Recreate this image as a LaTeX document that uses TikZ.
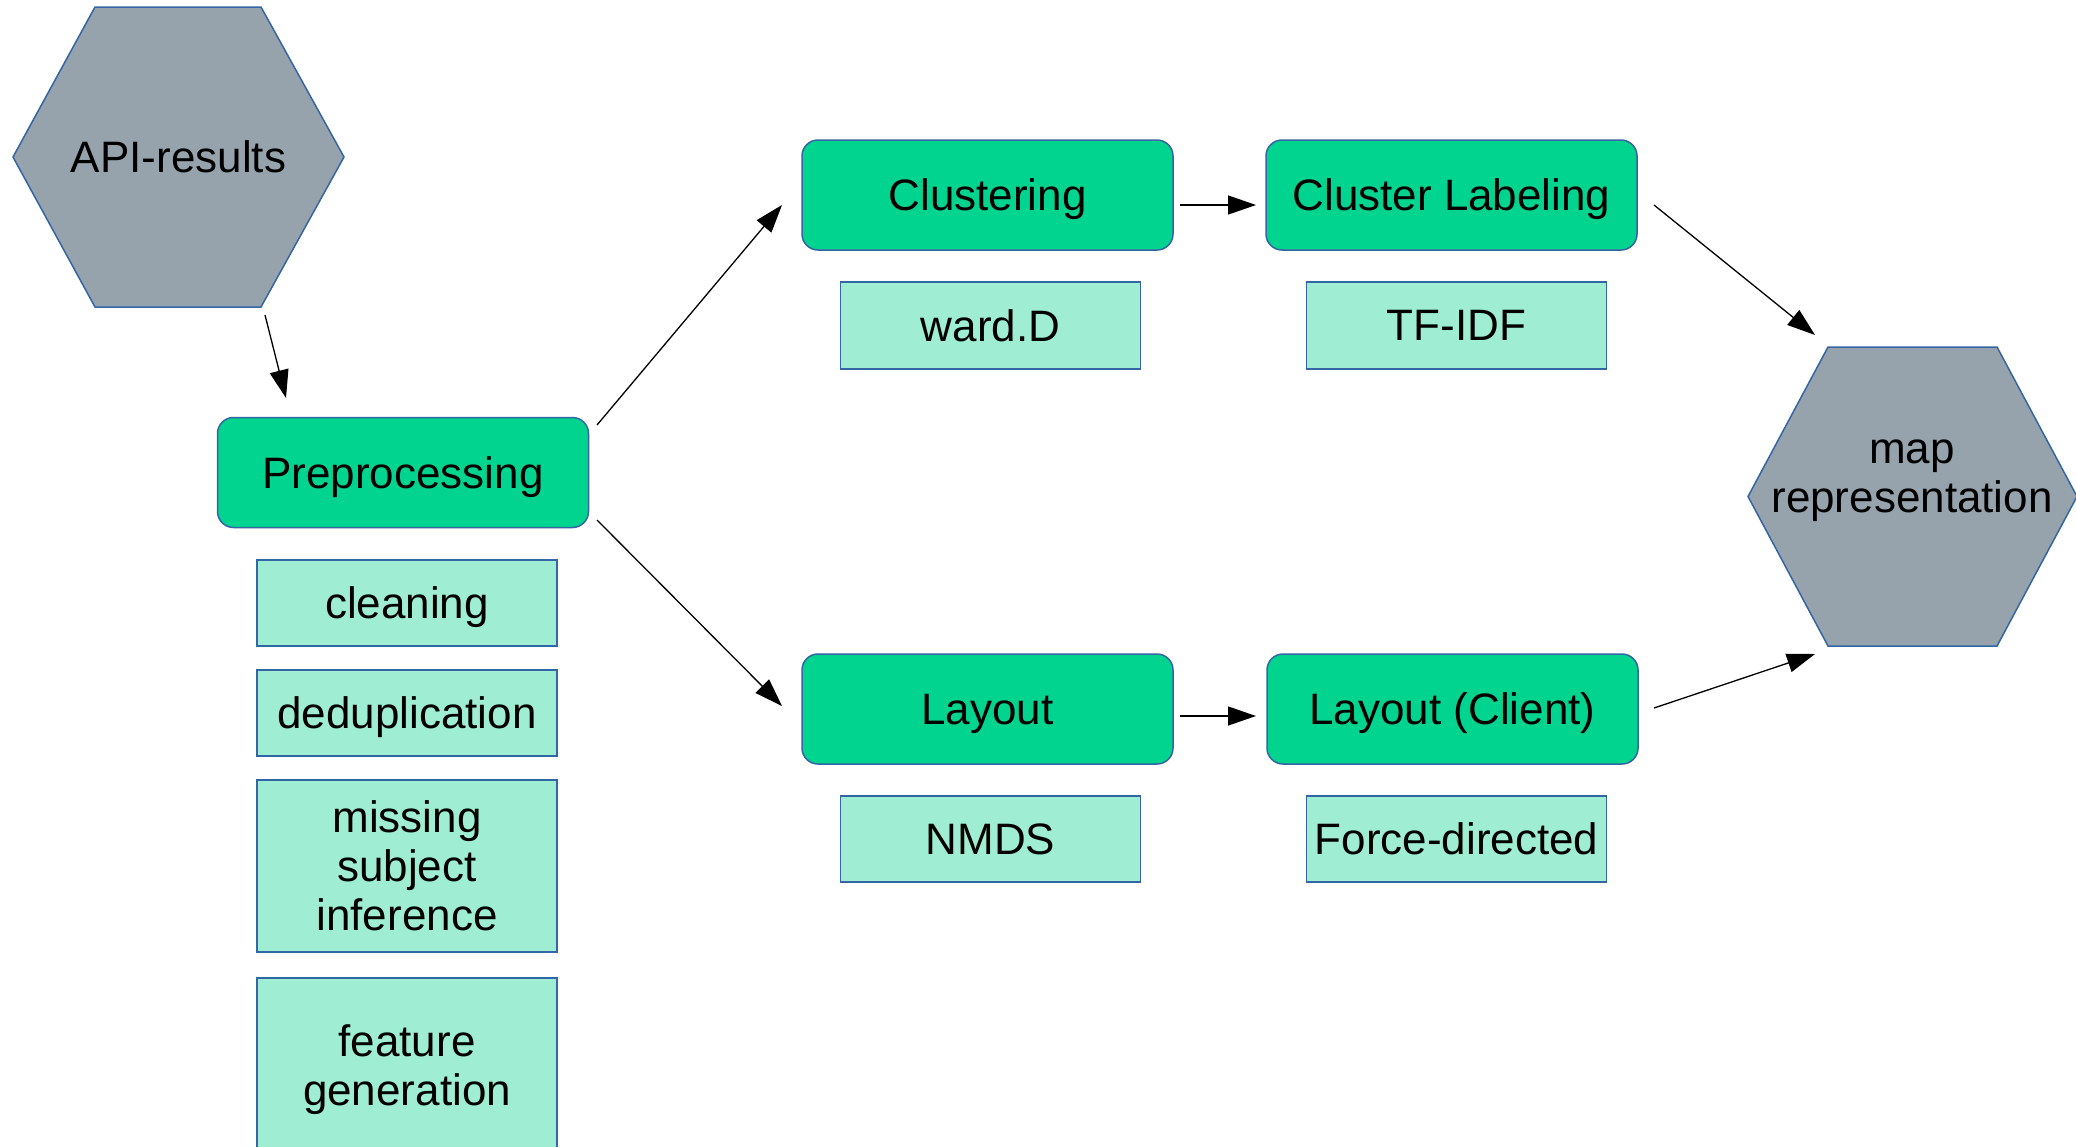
\documentclass[tikz,border=0pt]{standalone}
\usepackage{fontspec}
\setmainfont{Liberation Sans}
\usetikzlibrary{arrows.meta}
\definecolor{mygreen}{HTML}{00D48E}
\definecolor{mylight}{HTML}{9FEED3}
\definecolor{mygray}{HTML}{97A3AC}
\definecolor{myborder}{HTML}{3465A4}
\tikzset{
  mainbox/.style={draw=myborder, line width=0.75pt, fill=mygreen, rounded corners=8pt,
    minimum width=185.5pt, minimum height=55pt, inner sep=0pt, text depth=0pt,
    font=\fontsize{22}{24.5}\selectfont},
  subbox/.style={draw=myborder, line width=0.75pt, fill=mylight,
    minimum width=150pt, minimum height=43pt, inner sep=0pt, align=center, text depth=0pt,
    font=\fontsize{22}{24.5}\selectfont},
  hexshape/.style={draw=myborder, line width=0.75pt, fill=mygray},
  hextext/.style={align=center, inner sep=0pt, font=\fontsize{22}{24.5}\selectfont},
  arr/.style={line width=0.65pt, -{Triangle[length=14pt,width=9.5pt]}}
}
\begin{document}
\begin{tikzpicture}[x=0.5pt,y=-0.5pt]
\useasboundingbox (0,0) rectangle (2076,1146);
\clip (0,0) rectangle (2076,1146);
\fill[white] (0,0) rectangle (2076,1146);
% hexagons
\draw[hexshape] (13,157) -- (95,7) -- (261,7) -- (344,157) -- (261,307) -- (95,307) -- cycle;
\node[hextext] (api) at (178.5,157) {API-results};
\draw[hexshape] (1748,496.5) -- (1828,347) -- (1997,347) -- (2077,496.5) -- (1997,646) -- (1828,646) -- cycle;
\node[hextext] (map) at (1912,481) {map\\representation};
% main boxes
\node[mainbox] (prep) at (403,472.5) {Preprocessing};
\node[mainbox] (clus) at (987.5,195) {Clustering};
\node[mainbox] (clab) at (1451.5,195) {Cluster Labeling};
\node[mainbox] (lay) at (987.5,709) {Layout};
\node[mainbox] (layc) at (1452.5,709) {Layout (Client)};
% sub boxes
\node[subbox] (clean) at (407,603) {cleaning};
\node[subbox] (dedup) at (407,713) {deduplication};
\node[subbox, minimum height=86pt] (miss) at (407,866) {missing\\subject\\inference};
\node[subbox, minimum height=87pt] (feat) at (407,1065) {feature\\generation};
\node[subbox, minimum height=43.5pt] (ward) at (990.5,325.5) {ward.D};
\node[subbox, minimum height=43.5pt] (tfidf) at (1456.5,325.5) {TF-IDF};
\node[subbox] (nmds) at (990.5,839) {NMDS};
\node[subbox] (force) at (1456.5,839) {Force-directed};
% connector end points
\coordinate (a1) at (265,315);
\coordinate (a2) at (286,398);
\coordinate (b1) at (597,425);
\coordinate (b2) at (782,205);
\coordinate (c1) at (597,520);
\coordinate (c2) at (782,706);
\coordinate (d1) at (1180,205);
\coordinate (d2) at (1256,205);
\coordinate (e1) at (1180,716);
\coordinate (e2) at (1256,716);
\coordinate (f1) at (1654,205);
\coordinate (f2) at (1815,335);
\coordinate (g1) at (1654,708);
\coordinate (g2) at (1815,654);
\draw[arr] (a1) -- (a2);
\draw[arr] (b1) -- (b2);
\draw[arr] (c1) -- (c2);
\draw[arr] (d1) -- (d2);
\draw[arr] (e1) -- (e2);
\draw[arr] (f1) -- (f2);
\draw[arr] (g1) -- (g2);
\end{tikzpicture}
\end{document}
